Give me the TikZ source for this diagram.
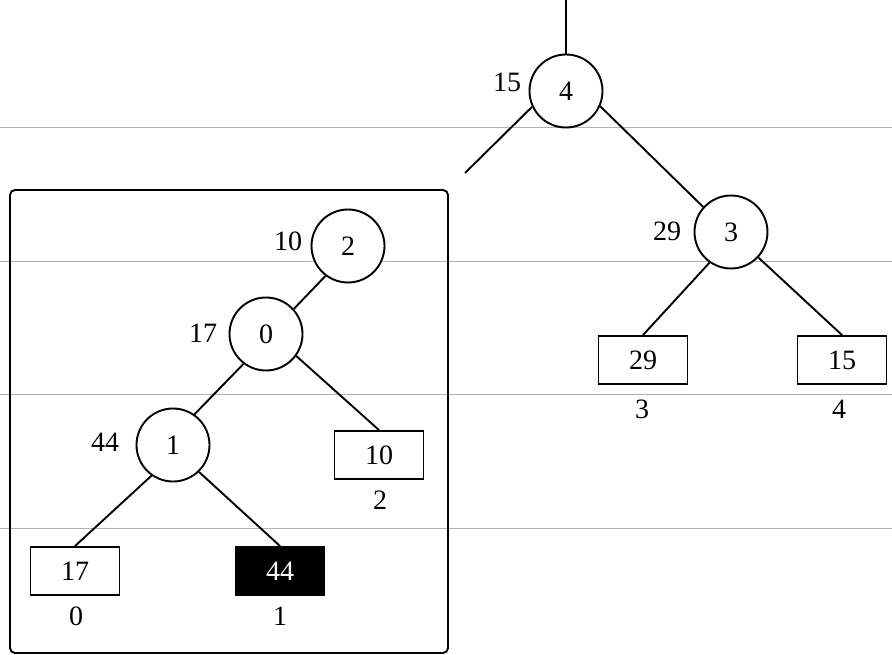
\documentclass[tikz,border=0pt]{standalone}
\usepackage{fontspec}
\setmainfont{Liberation Serif}
\begin{document}
\begin{tikzpicture}[x=1pt,y=-1pt,
  every node/.style={font=\fontsize{28}{32}\selectfont},
  hnode/.style={circle,draw,line width=1.9pt,fill=white,minimum size=73pt,inner sep=0pt},
  leaf/.style={rectangle,draw,line width=1.9pt,fill=white,minimum width=89pt,minimum height=48pt,inner sep=0pt},
  darkleaf/.style={leaf,fill=black,text=white},
  edge/.style={line width=1.9pt},
  rule/.style={draw=black!30,line width=0.9pt},
  lbl/.style={inner sep=0pt}]
\useasboundingbox (0,0) rectangle (892,655);
% background ruled lines
\foreach \yy in {127,261,394,528}{
  \draw[rule] (0,\yy) -- (892,\yy);
}
% frame
\draw[line width=1.9pt,rounded corners=5pt] (10,190) rectangle (448,653);
% top tree
\node[hnode] (n4) at (566,91) {4};
\node[hnode] (n3) at (731,232) {3};
\node[leaf] (l29) at (643,360) {29};
\node[leaf] (l15) at (842,360) {15};
\coordinate (top) at (566,0);
\coordinate (dang) at (465,173);
\node[lbl] (w4) at (507,82) {15};
\node[lbl] (w3) at (667,231) {29};
\node[lbl] (i3) at (642,409) {3};
\node[lbl] (i4) at (839,409) {4};
% boxed subtree
\node[hnode] (n2) at (348,246) {2};
\node[hnode] (n0) at (266,334) {0};
\node[hnode] (n1) at (173,445) {1};
\node[leaf] (l10) at (379,455) {10};
\node[leaf] (l17) at (75,571) {17};
\node[darkleaf] (l44) at (280,571) {44};
\node[lbl] (w2) at (288,241) {10};
\node[lbl] (w0) at (203,333) {17};
\node[lbl] (w1) at (105,442) {44};
\node[lbl] (i2) at (380,500) {2};
\node[lbl] (i0) at (76,616) {0};
\node[lbl] (i1) at (280,616) {1};
% edges
\draw[edge] (top) -- (n4.north);
\draw[edge] (n4.205) -- (dang);
\draw[edge] (n4.336) -- (n3.138);
\draw[edge] (n3.235) -- (l29.north);
\draw[edge] (n3.-43) -- (l15.north);
\draw[edge] (n2.233) -- (n0.42);
\draw[edge] (n0.233) -- (n1.55);
\draw[edge] (n0.-36) -- (l10.north);
\draw[edge] (n1.235) -- (l17.north);
\draw[edge] (n1.-46) -- (l44.north);
\end{tikzpicture}
\end{document}
